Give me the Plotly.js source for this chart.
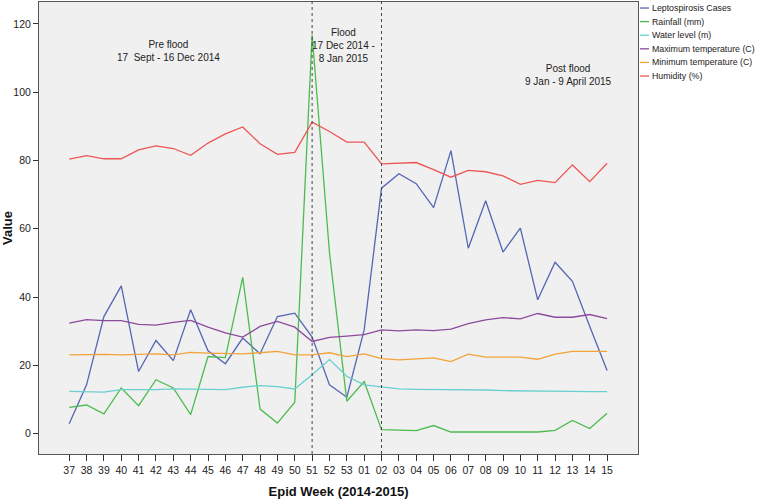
<!DOCTYPE html>
<html>
<head>
<meta charset="utf-8">
<script src="https://cdn.plot.ly/plotly-3.0.1.min.js"></script>
<style>
html,body{margin:0;padding:0;background:#ffffff;}
#chart{width:757px;height:503px;}
</style>
</head>
<body>
<div id="chart"></div>
<script>
var weeks = ["37","38","39","40","41","42","43","44","45","46","47","48","49","50","51","52","53",
             "01","02","03","04","05","06","07","08","09","10","11","12","13","14","15"];

var lepto = [2.9,14.3,34.3,43.3,18.2,27.3,21.4,36.3,24.3,20.5,28.0,23.4,34.3,35.3,28.3,14.3,10.7,
             30.4,71.9,76.1,73.2,66.2,82.9,54.3,68.2,53.2,60.2,39.2,50.2,44.6,31.4,18.5];
var rainfall = [7.7,8.4,5.8,13.4,8.2,15.8,13.4,5.6,22.6,22.3,45.8,7.2,3.1,9.2,116.8,53.0,9.5,
                15.3,1.2,1.0,0.9,2.4,0.5,0.5,0.5,0.5,0.6,0.5,1.0,3.9,1.5,6.0];
var waterLevel = [12.4,12.4,12.2,12.9,12.8,12.9,13.1,13.1,12.9,12.9,13.6,14.1,13.8,13.1,17.3,21.7,16.8,
                  14.3,13.7,13.1,13.0,13.0,13.0,12.9,12.8,12.6,12.6,12.5,12.5,12.4,12.3,12.3];
var maxTemp = [32.4,33.4,33.1,33.1,32.0,31.8,32.6,33.2,31.2,29.5,28.3,31.4,32.9,31.2,27.0,28.2,28.6,
               29.0,30.4,30.1,30.4,30.2,30.6,32.2,33.3,34.0,33.6,35.2,34.1,34.1,34.9,33.7];
var minTemp = [23.1,23.2,23.2,23.1,23.2,23.4,23.1,23.8,23.6,23.4,23.4,23.7,24.1,23.1,23.1,23.7,22.6,
               23.4,22.0,21.6,21.9,22.2,21.1,23.3,22.4,22.4,22.4,21.8,23.3,24.1,24.1,24.1];
var humidity = [80.4,81.4,80.5,80.5,83.1,84.3,83.5,81.5,85.1,87.8,89.8,84.9,81.8,82.4,91.2,88.5,85.4,
                85.4,79.0,79.1,79.4,77.3,75.1,77.1,76.7,75.5,73.0,74.2,73.5,78.7,73.8,79.2];

var seriesNames = ["Leptospirosis Cases","Rainfall (mm)","Water level (m)",
                   "Maximum temperature (C)","Minimum temperature (C)","Humidity (%)"];
var seriesData = [lepto, rainfall, waterLevel, maxTemp, minTemp, humidity];
var seriesColors = ["#5566b4","#4cbb4f","#6acfd0","#8c4a9c","#f3a23a","#ee5555"];

var periodLabels = ["Pre flood<br>17  Sept - 16 Dec 2014",
                    "Flood<br>17 Dec 2014 -<br>8 Jan 2015",
                    "Post flood<br>9 Jan - 9 April 2015"];
var floodBoundaryWeeks = ["51","02"];

var FONT = "'Liberation Sans', Arial, sans-serif";
var NARROW = "'Liberation Sans Narrow', 'Arial Narrow', 'Liberation Sans', Arial, sans-serif";

var traces = seriesData.map(function(d, k){
  return {
    type: "scatter", mode: "lines", name: seriesNames[k],
    x: weeks, y: d,
    line: {color: seriesColors[k], width: 1.3},
    hoverinfo: "skip", showlegend: false
  };
});

// Compact legend to the right of the plot, as in the original
var shapes = [];
var annotations = [];
var legX0 = 1.0033, legX1 = 1.0184, legTextX = 1.0200;
var legY0 = 0.9867, legStep = 0.0301;
seriesNames.forEach(function(nm, k){
  var yy = legY0 - k * legStep;
  shapes.push({type: "line", xref: "paper", yref: "paper", x0: legX0, x1: legX1, y0: yy, y1: yy,
               line: {color: seriesColors[k], width: 1.3}});
  annotations.push({xref: "paper", yref: "paper", x: legTextX, y: yy, xanchor: "left", yanchor: "middle",
                    showarrow: false, text: nm, font: {family: NARROW, size: 8.8, color: "#222"}});
});

floodBoundaryWeeks.forEach(function(w){
  var idx = weeks.indexOf(w);
  shapes.push({type: "line", xref: "x", yref: "paper", x0: idx, x1: idx, y0: 0, y1: 1,
               line: {color: "#444", width: 1, dash: "dot"}});
});

var periodPos = [[5.75, 112.1], [15.8, 113.8], [28.8, 104.9]];
periodLabels.forEach(function(t, k){
  annotations.push({xref: "x", yref: "y", x: periodPos[k][0], y: periodPos[k][1], showarrow: false,
                    align: "center", text: t, font: {family: FONT, size: 10, color: "#222"}});
});

var layout = {
  width: 757, height: 503,
  paper_bgcolor: "#ffffff",
  plot_bgcolor: "#f0f0f0",
  margin: {l: 39, r: 119, t: 2, b: 49},
  font: {family: FONT, size: 11, color: "#222"},
  showlegend: false,
  xaxis: {
    type: "category",
    categoryorder: "array", categoryarray: weeks,
    range: [-1.74, 32.78],
    showgrid: false, zeroline: false,
    showline: true, mirror: true, linecolor: "#555", linewidth: 1,
    ticks: "outside", ticklen: 6, tickcolor: "#333",
    tickfont: {family: FONT, size: 10.5, color: "#222"},
    title: {text: "<b>Epid Week (2014-2015)</b>", font: {family: FONT, size: 13, color: "#111"}, standoff: 12}
  },
  yaxis: {
    range: [-5.94, 126.4],
    tickvals: [0,20,40,60,80,100,120],
    showgrid: false, zeroline: false,
    showline: true, mirror: true, linecolor: "#555", linewidth: 1,
    ticks: "outside", ticklen: 5, tickcolor: "#333",
    tickfont: {family: FONT, size: 10.5, color: "#222"},
    title: {text: "<b>Value</b>", font: {family: FONT, size: 13, color: "#111"}, standoff: 4}
  },
  shapes: shapes,
  annotations: annotations
};

Plotly.newPlot("chart", traces, layout, {displayModeBar: false, staticPlot: true});
</script>
</body>
</html>
